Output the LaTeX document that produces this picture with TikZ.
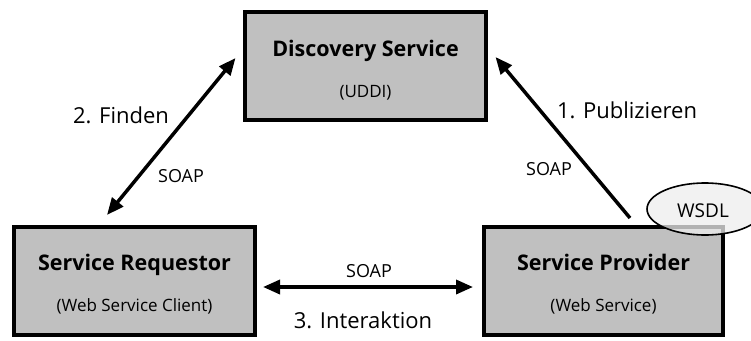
\documentclass[tikz,border=0pt]{standalone}
\usepackage{fontspec}
\setmainfont{Open Sans}
\usetikzlibrary{arrows.meta,calc,shapes.geometric}
\definecolor{boxgray}{HTML}{C0C0C0}
\definecolor{wsdlgray}{HTML}{EEEEEE}
\begin{document}
\begin{tikzpicture}[x=1pt,y=-1pt,
  box/.style={draw=black, line width=4pt, fill=boxgray, inner sep=0pt,
              minimum width=241pt, minimum height=108pt},
  boxtitle/.style={font=\bfseries\fontsize{21.5}{24}\selectfont, inner sep=0pt, anchor=base},
  boxsub/.style={font=\fontsize{17}{20}\selectfont, inner sep=0pt, anchor=base},
  lbl/.style={font=\fontsize{22}{26}\selectfont, inner sep=0pt, anchor=base},
  soap/.style={font=\fontsize{18}{21}\selectfont, inner sep=0pt, anchor=base},
  link/.style={line width=3.5pt},
  bighead/.tip={Triangle[length=17pt,width=14pt]}]
  \useasboundingbox (0,0) rectangle (751,340);

  % the three roles
  \node[box] (disc) at (365.5,66) {};
  \node[box] (req)  at (134.5,281) {};
  \node[box, minimum width=239pt] (prov) at (603.5,281) {};

  \node[boxtitle] (disct) at ([yshift=10pt]disc.center) {Discovery Service};
  \node[boxsub]   (discs) at ([yshift=-31pt]disc.center) {(UDDI)};
  \node[boxtitle] (reqt)  at ([yshift=11pt]req.center) {Service Requestor};
  \node[boxsub]   (reqs)  at ([yshift=-30pt]req.center) {(Web Service Client)};
  \node[boxtitle] (provt) at ([yshift=11pt]prov.center) {Service Provider};
  \node[boxsub]   (provs) at ([yshift=-30pt]prov.center) {(Web Service)};

  % service description attached to the provider
  \node[ellipse, draw=black, line width=1.6pt, fill=wsdlgray, fill opacity=0.75,
        text opacity=1, minimum width=116pt, minimum height=52pt, inner sep=0pt]
        (wsdl) at (705,209) {};
  \node[font=\fontsize{19}{22}\selectfont, inner sep=0pt, anchor=base]
        (wsdlt) at (703,217) {WSDL};

  % connector end points next to the boxes
  \coordinate (findA) at ($(disc.west)+(-7.5,-8)$);
  \coordinate (findB) at ($(req.north)+(-27.5,-10)$);
  \coordinate (pubA)  at ($(prov.north)+(26.5,-7)$);
  \coordinate (pubB)  at ($(disc.east)+(7.5,-9)$);
  \coordinate (intA)  at ($(req.east)+(6,6)$);
  \coordinate (intB)  at ($(prov.west)+(-9,6)$);

  \draw[link, bighead-bighead] (findB) -- (findA);
  \draw[link, -bighead] (pubA) -- (pubB);
  \draw[link, bighead-bighead] (intA) -- (intB);

  % labels
  \node[lbl]  (lfind) at (121,123) {2. Finden};
  \node[soap] (sfind) at (181,182) {SOAP};
  \node[lbl]  (lpub)  at (627,118) {1. Publizieren};
  \node[soap] (spub)  at (549,175) {SOAP};
  \node[soap] (sint)  at (369,277) {SOAP};
  \node[lbl]  (lint)  at (363,328) {3. Interaktion};
\end{tikzpicture}
\end{document}
